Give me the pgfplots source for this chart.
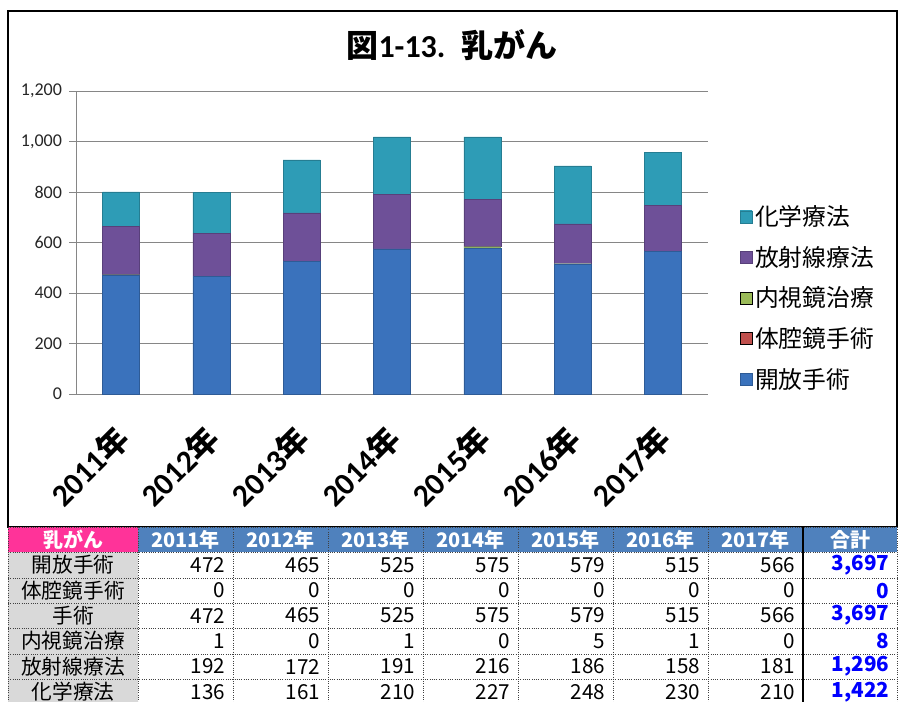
\documentclass[border=0pt]{standalone}
\usepackage{pgfplots}
\pgfplotsset{compat=1.18}
\usepackage{fontspec}
\setmainfont{Noto Sans CJK JP}
\newfontfamily\cjk{Noto Sans CJK JP}
\newfontfamily\carlito{Carlito}
\definecolor{blueM}{HTML}{4E8DD8}
\definecolor{blueE}{HTML}{3A72BC}
\definecolor{purM}{HTML}{8A66B6}
\definecolor{purE}{HTML}{6E5098}
\definecolor{tealM}{HTML}{42BAD8}
\definecolor{tealE}{HTML}{2E9CB6}
\definecolor{redM}{HTML}{C0504D}
\definecolor{greenM}{HTML}{9BBB59}
\definecolor{hdrBlue}{HTML}{4F81BD}
\definecolor{hdrPink}{HTML}{FF3399}
\definecolor{cellGray}{HTML}{D9D9D9}
\definecolor{gridGray}{HTML}{868686}

\pgfplotstableread{
x open lap endo rad chem
0 472 0 1 192 136
1 465 0 0 172 161
2 525 0 1 191 210
3 575 0 0 216 227
4 579 0 5 186 248
5 515 0 1 158 230
6 566 0 0 181 210
}\datatable

\begin{document}
\begin{tikzpicture}
\clip (0,0) rectangle (673.5pt,-525.75pt);
\useasboundingbox (0,0) rectangle (673.5pt,-525.75pt);
\fill[white] (0,0) rectangle (673.5pt,-525.75pt);
% chart frame
\draw[black, line width=1.1pt] (6pt,-8.25pt) rectangle (672.75pt,-395.25pt);
% title
\node[font=\fontsize{24}{26}\selectfont\bfseries] at (339pt,-34pt)
  {{\cjk 図}{\carlito 1-13.}\hspace{0.5em}{\cjk 乳がん}};
\begin{axis}[
  at={(57pt,-295.5pt)}, anchor=south west,
  scale only axis, width=474pt, height=227.25pt,
  xmin=-0.5, xmax=6.5, ymin=0, ymax=1200,
  ybar stacked, bar width=0.41,
  axis lines*=left,
  axis line style={gridGray, line width=0.6pt},
  ytick={0,200,...,1200},
  ymajorgrids, grid style={gridGray, line width=0.6pt},
  xtick={0,...,6},
  xticklabels={{\carlito 2011}年,{\carlito 2012}年,{\carlito 2013}年,{\carlito 2014}年,{\carlito 2015}年,{\carlito 2016}年,{\carlito 2017}年},
  x tick style={draw=none},
  minor xtick={-0.5,0.5,...,6.5},
  minor x tick style={gridGray, line width=0.6pt},
  minor tick length=7pt,
  y tick style={gridGray, line width=0.6pt},
  major tick length=5pt,
  tick align=outside,
  /pgf/number format/assume math mode=true,
  /pgf/number format/1000 sep={,},
  yticklabel style={font=\carlito\fontsize{13.5}{14}\selectfont, text=black!85, xshift=-2pt},
  xticklabel style={font=\fontsize{23.5}{25}\selectfont\bfseries, rotate=45, anchor=east, inner sep=0pt, xshift=-16pt, yshift=-18pt},
  legend style={at={(1.05,0.317)}, anchor=west, draw=none, fill=none,
    font=\cjk\fontsize{17.8}{18}\selectfont, row sep=10pt, inner sep=0pt,
    cells={anchor=west}},
  reverse legend,
  legend image code/.code={\draw[#1] (0pt,-4.5pt) rectangle (9pt,4.5pt);},
]
\addplot[draw=blueE!80!black, line width=0.3pt, left color=blueE, middle color=blueM, right color=blueE] table[x=x,y=open] {\datatable};
\addplot[draw=none, fill=redM] table[x=x,y=lap] {\datatable};
\addplot[draw=none, fill=greenM] table[x=x,y=endo] {\datatable};
\addplot[draw=purE!80!black, line width=0.3pt, left color=purE, middle color=purM, right color=purE] table[x=x,y=rad] {\datatable};
\addplot[draw=tealE!80!black, line width=0.3pt, left color=tealE, middle color=tealM, right color=tealE] table[x=x,y=chem] {\datatable};
\legend{開放手術,体腔鏡手術,内視鏡治療,放射線療法,化学療法}
\end{axis}

% data table
\begin{scope}[x=0.75pt, y=-0.75pt]
\fill[hdrPink] (8,527) rectangle (138,552);
\fill[hdrBlue] (138,527) rectangle (897,552);
\fill[cellGray] (8,552) rectangle (138,705);
\foreach \yy in {527,552,578,603,628,654,679}
  \draw[black!75, densely dotted, line width=0.7pt] (8,\yy) -- (897,\yy);
\foreach \xx in {8,138,233,328,423,518,613,708,897}
  \draw[black!75, densely dotted, line width=0.7pt] (\xx,527) -- (\xx,705);
\draw[black, line width=1.4pt] (803,527) -- (803,705);
% header
\foreach \t/\cx in {2011年/185.5,2012年/280.5,2013年/375.5,2014年/470.5,2015年/565.5,2016年/660.5,2017年/755.5,合計/850}
  \node[text=white, font=\fontsize{15}{16}\selectfont\bfseries] at (\cx,539.5) {\t};
\node[text=white, font=\fontsize{15}{16}\selectfont\bfseries] at (73,539.5) {乳がん};
% row labels
\foreach \t/\cy in {開放手術/565,体腔鏡手術/590.5,手術/615.5,内視鏡治療/641,放射線療法/666.5,化学療法/692}
  \node[font=\fontsize{15.5}{16}\selectfont] at (73,\cy) {\t};
% numbers
\foreach \cy/\vals/\tot in {
  565/{472,465,525,575,579,515,566}/{3,697},
  590.5/{0,0,0,0,0,0,0}/0,
  615.5/{472,465,525,575,579,515,566}/{3,697},
  641/{1,0,1,0,5,1,0}/8,
  666.5/{192,172,191,216,186,158,181}/{1,296},
  692/{136,161,210,227,248,230,210}/{1,422}} {
  \foreach \v [count=\i] in \vals {
    \pgfmathsetmacro{\rx}{138+95*\i-3}
    \node[anchor=east, font=\fontsize{15.5}{16}\selectfont] at (\rx,\cy) {\v};
  }
  \node[anchor=east, text=blue, font=\fontsize{15.5}{16}\selectfont\bfseries] at (894,\cy) {\tot};
}
\end{scope}
\end{tikzpicture}
\end{document}
